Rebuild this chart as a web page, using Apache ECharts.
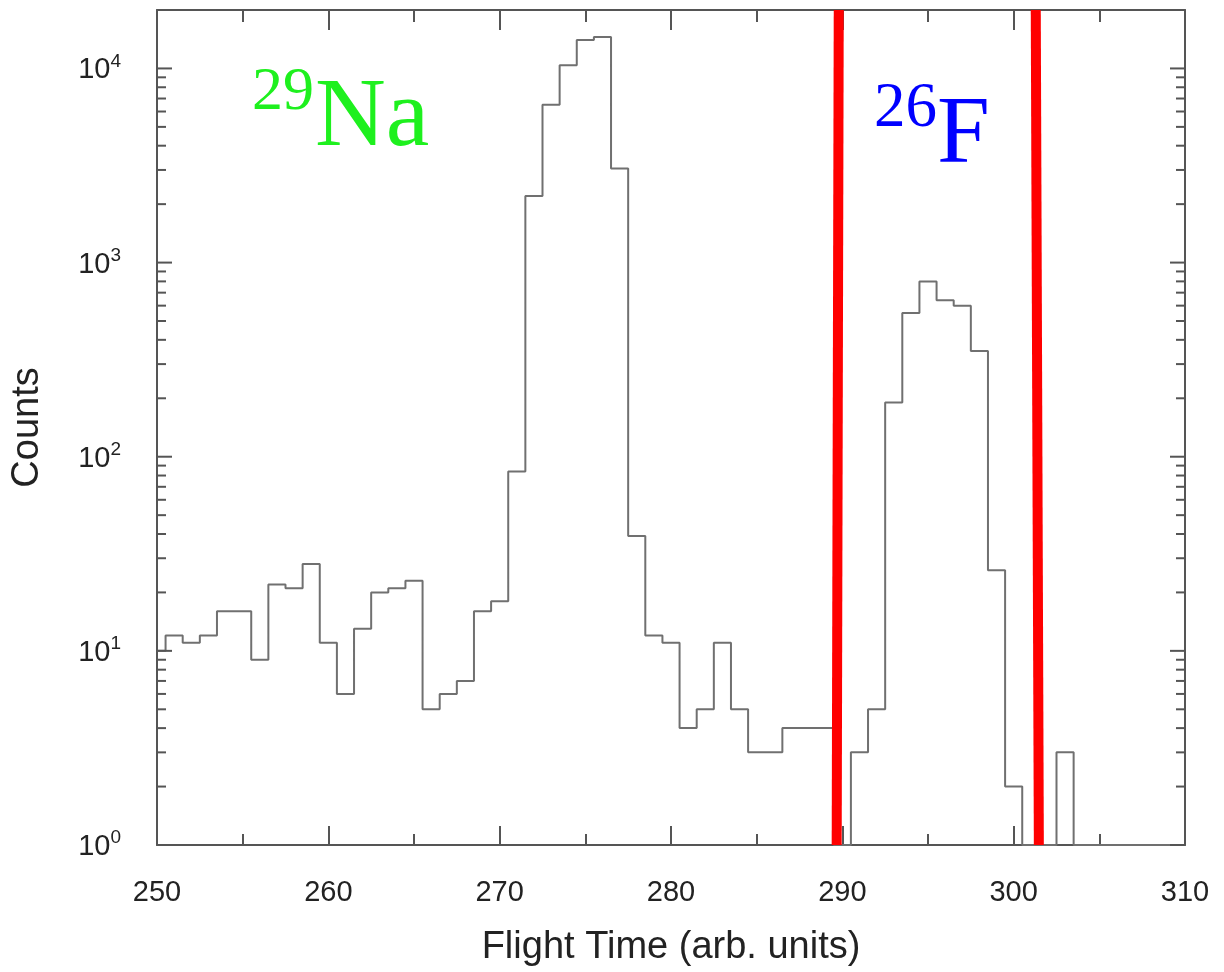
<!DOCTYPE html>
<html>
<head>
<meta charset="utf-8">
<script src="https://cdn.jsdelivr.net/npm/echarts@6/dist/echarts.min.js"></script>
<style>
html,body{margin:0;padding:0;background:#fff;}
#chart{width:1224px;height:972px;}
</style>
</head>
<body>
<div id="chart"></div>
<script>
// Histogram bins (bin centres, width 1) and counts; 0 = empty bin
var binCenters = [250,251,252,253,254,255,256,257,258,259,260,261,262,263,264,265,266,267,268,269,
                  270,271,272,273,274,275,276,277,278,279,280,281,282,283,284,285,286,287,288,289,
                  290,291,292,293,294,295,296,297,298,299,300,301,302,303,304,305,306,307,308,309,310];
var counts = [10,12,11,12,16,16,9,22,21,28,11,6,13,20,21,23,5,6,7,16,
              18,84,2200,6500,10400,14000,14500,3050,39,12,11,4,5,11,5,3,3,4,4,4,
              0,3,5,190,550,800,640,600,350,26,2,0,0,3,0,0,0,0,0,0,0];
// Gate lines (x at bottom, x at top)
var gateLeft = [289.67, 289.79];
var gateRight = [301.47, 301.29];
// Axis ticks
var yMajorTicks = [1,10,100,1000,10000];
var yMinorTicks = [2,3,4,5,6,7,8,9,20,30,40,50,60,70,80,90,200,300,400,500,600,700,800,900,
                   2000,3000,4000,5000,6000,7000,8000,9000];
var yMin = 1, yMax = 20000;
var xTitle = 'Flight Time (arb. units)';
var yTitle = 'Counts';

var chart = echarts.init(document.getElementById('chart'), null, {renderer:'canvas'});
var FONT = '"Liberation Sans", Arial, Helvetica, sans-serif';
var SERIF = '"Liberation Serif", "Times New Roman", serif';
var AX = '#555';

var histData = binCenters.map(function(x, i){ return [x, counts[i] > 0 ? counts[i] : yMin]; });
var tickData = yMajorTicks.concat(yMinorTicks).map(function(v){ return [250, v]; });

function yLabel(v){
  var e = Math.log(v)/Math.LN10;
  var r = Math.round(e);
  if (Math.abs(e - r) > 1e-6) return '';
  return '{b|10}{s|' + r + '}';
}

var option = {
  animation: false,
  backgroundColor: '#fff',
  grid: {left:157, right:39, top:10, bottom:126, containLabel:false},
  xAxis: [{
    type:'value', min:250, max:310, interval:10, position:'bottom',
    axisLine:{show:true, onZero:false, lineStyle:{color:AX, width:2}},
    axisTick:{show:true, inside:true, length:19, lineStyle:{color:AX, width:2}},
    minorTick:{show:true, splitNumber:2, length:11, lineStyle:{color:AX, width:2}},
    splitLine:{show:false},
    axisLabel:{show:true, margin:33, fontSize:29, color:'#222', fontFamily:FONT},
    name: xTitle, nameLocation:'middle', nameGap:84,
    nameTextStyle:{fontSize:38, color:'#222', fontFamily:FONT}
  },{
    type:'value', min:250, max:310, interval:10, position:'top',
    axisLine:{show:true, onZero:false, lineStyle:{color:AX, width:2}},
    axisTick:{show:true, inside:true, length:20, lineStyle:{color:AX, width:2}},
    minorTick:{show:true, splitNumber:2, length:12, lineStyle:{color:AX, width:2}},
    splitLine:{show:false}, axisLabel:{show:false}
  }],
  yAxis: [{
    type:'log', logBase:10, min:yMin, max:yMax, position:'left',
    axisLine:{show:true, onZero:false, lineStyle:{color:AX, width:2}},
    axisTick:{show:false}, minorTick:{show:false}, splitLine:{show:false},
    axisLabel:{show:true, margin:36, formatter:yLabel,
      rich:{
        b:{fontSize:29, color:'#222', fontFamily:FONT, verticalAlign:'bottom'},
        s:{fontSize:19, color:'#222', fontFamily:FONT, verticalAlign:'bottom', padding:[0,0,14,0]}
      }},
    name: yTitle, nameLocation:'middle', nameGap:110, nameRotate:90,
    nameTextStyle:{fontSize:38, color:'#222', fontFamily:FONT}
  },{
    type:'log', logBase:10, min:yMin, max:yMax, position:'right',
    axisLine:{show:true, onZero:false, lineStyle:{color:AX, width:2}},
    axisTick:{show:false}, minorTick:{show:false}, splitLine:{show:false},
    axisLabel:{show:false}
  }],
  series: [{
    type:'line', name:'counts', step:'middle', data:histData,
    xAxisIndex:0, yAxisIndex:0, showSymbol:false, symbol:'none',
    lineStyle:{color:'#707070', width:2}, z:3
  },{
    type:'custom', name:'yticks', xAxisIndex:0, yAxisIndex:0, data:tickData, z:4, silent:true,
    renderItem:function(params, api){
      var v = api.value(1);
      var major = params.dataIndex < yMajorTicks.length;
      var pL = api.coord([250, v]);
      var pR = api.coord([310, v]);
      var len = major ? 15 : 9;
      var st = {stroke:AX, lineWidth:2};
      return {type:'group', children:[
        {type:'line', shape:{x1:pL[0], y1:pL[1], x2:pL[0]+len, y2:pL[1]}, style:st},
        {type:'line', shape:{x1:pR[0], y1:pR[1], x2:pR[0]-len, y2:pR[1]}, style:st}
      ]};
    }
  },{
    type:'line', name:'gateL', data:[[gateLeft[0], yMin],[gateLeft[1], yMax]],
    showSymbol:false, symbol:'none', lineStyle:{color:'#ff0000', width:10, cap:'butt'}, z:10, clip:false
  },{
    type:'line', name:'gateR', data:[[gateRight[0], yMin],[gateRight[1], yMax]],
    showSymbol:false, symbol:'none', lineStyle:{color:'#ff0000', width:10, cap:'butt'}, z:10, clip:false
  }],
  graphic: [
    {type:'text', left:252, top:62, z:20, style:{text:'29', font:'62px ' + SERIF, fill:'#1ef01e'}},
    {type:'text', left:315, top:70, z:20, style:{text:'Na', font:'98px ' + SERIF, fill:'#1ef01e'}},
    {type:'text', left:874, top:78, z:20, style:{text:'26', font:'63px ' + SERIF, fill:'#0000ff'}},
    {type:'text', left:937, top:90, z:20, style:{text:'F', font:'95px ' + SERIF, fill:'#0000ff'}}
  ]
};
chart.setOption(option);
</script>
</body>
</html>
